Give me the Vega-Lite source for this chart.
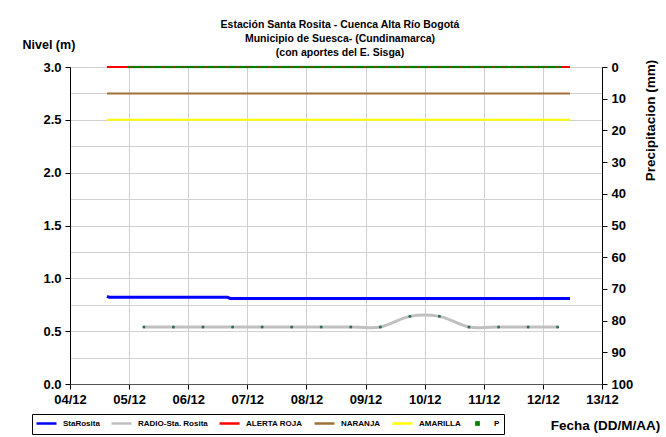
{
  "$schema": "https://vega.github.io/schema/vega-lite/v6.json",
  "width": 532,
  "height": 317,
  "autosize": {"type": "none"},
  "padding": {"left": 70, "top": 67, "right": 64, "bottom": 53},
  "background": "white",
  "config": {
    "font": "Arial, Liberation Sans, sans-serif",
    "view": {"stroke": null},
    "axis": {
      "labelFontWeight": "bold",
      "labelFontSize": 13,
      "labelColor": "black",
      "titleFontWeight": "bold",
      "titleFontSize": 12.5,
      "titleColor": "black",
      "domainColor": "black",
      "tickColor": "black",
      "gridColor": "#CCCCCC"
    }
  },
  "title": {
    "text": ["Estación Santa Rosita - Cuenca Alta Río Bogotá", "Municipio de Suesca- (Cundinamarca)", "(con aportes del  E. Sisga)"],
    "fontSize": 10.5,
    "fontWeight": "bold",
    "color": "black",
    "anchor": "middle",
    "frame": "group",
    "dx": 4,
    "lineHeight": 14,
    "offset": -20
  },
  "datasets": {
    "niveles": [
      {"fecha": "2012-12-04T15:00", "serie": "StaRosita", "nivel": 0.83},
      {"fecha": "2012-12-04T16:00", "serie": "StaRosita", "nivel": 0.82},
      {"fecha": "2012-12-05T12:00", "serie": "StaRosita", "nivel": 0.82},
      {"fecha": "2012-12-06T16:00", "serie": "StaRosita", "nivel": 0.82},
      {"fecha": "2012-12-06T17:00", "serie": "StaRosita", "nivel": 0.81},
      {"fecha": "2012-12-08T12:00", "serie": "StaRosita", "nivel": 0.81},
      {"fecha": "2012-12-10T12:00", "serie": "StaRosita", "nivel": 0.81},
      {"fecha": "2012-12-12T11:00", "serie": "StaRosita", "nivel": 0.81},
      {"fecha": "2012-12-04T15:00", "serie": "ALERTA ROJA", "nivel": 3.0},
      {"fecha": "2012-12-12T11:00", "serie": "ALERTA ROJA", "nivel": 3.0},
      {"fecha": "2012-12-04T15:00", "serie": "NARANJA", "nivel": 2.75},
      {"fecha": "2012-12-12T11:00", "serie": "NARANJA", "nivel": 2.75},
      {"fecha": "2012-12-04T15:00", "serie": "AMARILLA", "nivel": 2.5},
      {"fecha": "2012-12-12T11:00", "serie": "AMARILLA", "nivel": 2.5}
    ],
    "radio": [
      {"fecha": "2012-12-05T06:00", "serie": "RADIO-Sta. Rosita", "nivel": 0.54},
      {"fecha": "2012-12-05T18:00", "serie": "RADIO-Sta. Rosita", "nivel": 0.54},
      {"fecha": "2012-12-06T06:00", "serie": "RADIO-Sta. Rosita", "nivel": 0.54},
      {"fecha": "2012-12-06T18:00", "serie": "RADIO-Sta. Rosita", "nivel": 0.54},
      {"fecha": "2012-12-07T06:00", "serie": "RADIO-Sta. Rosita", "nivel": 0.54},
      {"fecha": "2012-12-07T18:00", "serie": "RADIO-Sta. Rosita", "nivel": 0.54},
      {"fecha": "2012-12-08T06:00", "serie": "RADIO-Sta. Rosita", "nivel": 0.54},
      {"fecha": "2012-12-08T18:00", "serie": "RADIO-Sta. Rosita", "nivel": 0.54},
      {"fecha": "2012-12-09T06:00", "serie": "RADIO-Sta. Rosita", "nivel": 0.54},
      {"fecha": "2012-12-09T18:00", "serie": "RADIO-Sta. Rosita", "nivel": 0.64},
      {"fecha": "2012-12-10T06:00", "serie": "RADIO-Sta. Rosita", "nivel": 0.64},
      {"fecha": "2012-12-10T18:00", "serie": "RADIO-Sta. Rosita", "nivel": 0.54},
      {"fecha": "2012-12-11T06:00", "serie": "RADIO-Sta. Rosita", "nivel": 0.54},
      {"fecha": "2012-12-11T18:00", "serie": "RADIO-Sta. Rosita", "nivel": 0.54},
      {"fecha": "2012-12-12T06:00", "serie": "RADIO-Sta. Rosita", "nivel": 0.54}
    ],
    "precip": [
      {"fecha": "2012-12-05T00:00", "serie": "P", "p": 0}, {"fecha": "2012-12-05T01:00", "serie": "P", "p": 0}, {"fecha": "2012-12-05T02:00", "serie": "P", "p": 0}, {"fecha": "2012-12-05T03:00", "serie": "P", "p": 0},
      {"fecha": "2012-12-05T04:00", "serie": "P", "p": 0}, {"fecha": "2012-12-05T05:00", "serie": "P", "p": 0}, {"fecha": "2012-12-05T06:00", "serie": "P", "p": 0}, {"fecha": "2012-12-05T07:00", "serie": "P", "p": 0},
      {"fecha": "2012-12-05T08:00", "serie": "P", "p": 0}, {"fecha": "2012-12-05T09:00", "serie": "P", "p": 0}, {"fecha": "2012-12-05T10:00", "serie": "P", "p": 0}, {"fecha": "2012-12-05T11:00", "serie": "P", "p": 0},
      {"fecha": "2012-12-05T12:00", "serie": "P", "p": 0}, {"fecha": "2012-12-05T13:00", "serie": "P", "p": 0}, {"fecha": "2012-12-05T14:00", "serie": "P", "p": 0}, {"fecha": "2012-12-05T15:00", "serie": "P", "p": 0},
      {"fecha": "2012-12-05T16:00", "serie": "P", "p": 0}, {"fecha": "2012-12-05T17:00", "serie": "P", "p": 0}, {"fecha": "2012-12-05T18:00", "serie": "P", "p": 0}, {"fecha": "2012-12-05T19:00", "serie": "P", "p": 0},
      {"fecha": "2012-12-05T20:00", "serie": "P", "p": 0}, {"fecha": "2012-12-05T21:00", "serie": "P", "p": 0}, {"fecha": "2012-12-05T22:00", "serie": "P", "p": 0}, {"fecha": "2012-12-05T23:00", "serie": "P", "p": 0},
      {"fecha": "2012-12-06T00:00", "serie": "P", "p": 0}, {"fecha": "2012-12-06T01:00", "serie": "P", "p": 0}, {"fecha": "2012-12-06T02:00", "serie": "P", "p": 0}, {"fecha": "2012-12-06T03:00", "serie": "P", "p": 0},
      {"fecha": "2012-12-06T04:00", "serie": "P", "p": 0}, {"fecha": "2012-12-06T05:00", "serie": "P", "p": 0}, {"fecha": "2012-12-06T06:00", "serie": "P", "p": 0}, {"fecha": "2012-12-06T07:00", "serie": "P", "p": 0},
      {"fecha": "2012-12-06T08:00", "serie": "P", "p": 0}, {"fecha": "2012-12-06T09:00", "serie": "P", "p": 0}, {"fecha": "2012-12-06T10:00", "serie": "P", "p": 0}, {"fecha": "2012-12-06T11:00", "serie": "P", "p": 0},
      {"fecha": "2012-12-06T12:00", "serie": "P", "p": 0}, {"fecha": "2012-12-06T13:00", "serie": "P", "p": 0}, {"fecha": "2012-12-06T14:00", "serie": "P", "p": 0}, {"fecha": "2012-12-06T15:00", "serie": "P", "p": 0},
      {"fecha": "2012-12-06T16:00", "serie": "P", "p": 0}, {"fecha": "2012-12-06T17:00", "serie": "P", "p": 0}, {"fecha": "2012-12-06T18:00", "serie": "P", "p": 0}, {"fecha": "2012-12-06T19:00", "serie": "P", "p": 0},
      {"fecha": "2012-12-06T20:00", "serie": "P", "p": 0}, {"fecha": "2012-12-06T21:00", "serie": "P", "p": 0}, {"fecha": "2012-12-06T22:00", "serie": "P", "p": 0}, {"fecha": "2012-12-06T23:00", "serie": "P", "p": 0},
      {"fecha": "2012-12-07T00:00", "serie": "P", "p": 0}, {"fecha": "2012-12-07T01:00", "serie": "P", "p": 0}, {"fecha": "2012-12-07T02:00", "serie": "P", "p": 0}, {"fecha": "2012-12-07T03:00", "serie": "P", "p": 0},
      {"fecha": "2012-12-07T04:00", "serie": "P", "p": 0}, {"fecha": "2012-12-07T05:00", "serie": "P", "p": 0}, {"fecha": "2012-12-07T06:00", "serie": "P", "p": 0}, {"fecha": "2012-12-07T07:00", "serie": "P", "p": 0},
      {"fecha": "2012-12-07T08:00", "serie": "P", "p": 0}, {"fecha": "2012-12-07T09:00", "serie": "P", "p": 0}, {"fecha": "2012-12-07T10:00", "serie": "P", "p": 0}, {"fecha": "2012-12-07T11:00", "serie": "P", "p": 0},
      {"fecha": "2012-12-07T12:00", "serie": "P", "p": 0}, {"fecha": "2012-12-07T13:00", "serie": "P", "p": 0}, {"fecha": "2012-12-07T14:00", "serie": "P", "p": 0}, {"fecha": "2012-12-07T15:00", "serie": "P", "p": 0},
      {"fecha": "2012-12-07T16:00", "serie": "P", "p": 0}, {"fecha": "2012-12-07T17:00", "serie": "P", "p": 0}, {"fecha": "2012-12-07T18:00", "serie": "P", "p": 0}, {"fecha": "2012-12-07T19:00", "serie": "P", "p": 0},
      {"fecha": "2012-12-07T20:00", "serie": "P", "p": 0}, {"fecha": "2012-12-07T21:00", "serie": "P", "p": 0}, {"fecha": "2012-12-07T22:00", "serie": "P", "p": 0}, {"fecha": "2012-12-07T23:00", "serie": "P", "p": 0},
      {"fecha": "2012-12-08T00:00", "serie": "P", "p": 0}, {"fecha": "2012-12-08T01:00", "serie": "P", "p": 0}, {"fecha": "2012-12-08T02:00", "serie": "P", "p": 0}, {"fecha": "2012-12-08T03:00", "serie": "P", "p": 0},
      {"fecha": "2012-12-08T04:00", "serie": "P", "p": 0}, {"fecha": "2012-12-08T05:00", "serie": "P", "p": 0}, {"fecha": "2012-12-08T06:00", "serie": "P", "p": 0}, {"fecha": "2012-12-08T07:00", "serie": "P", "p": 0},
      {"fecha": "2012-12-08T08:00", "serie": "P", "p": 0}, {"fecha": "2012-12-08T09:00", "serie": "P", "p": 0}, {"fecha": "2012-12-08T10:00", "serie": "P", "p": 0}, {"fecha": "2012-12-08T11:00", "serie": "P", "p": 0},
      {"fecha": "2012-12-08T12:00", "serie": "P", "p": 0}, {"fecha": "2012-12-08T13:00", "serie": "P", "p": 0}, {"fecha": "2012-12-08T14:00", "serie": "P", "p": 0}, {"fecha": "2012-12-08T15:00", "serie": "P", "p": 0},
      {"fecha": "2012-12-08T16:00", "serie": "P", "p": 0}, {"fecha": "2012-12-08T17:00", "serie": "P", "p": 0}, {"fecha": "2012-12-08T18:00", "serie": "P", "p": 0}, {"fecha": "2012-12-08T19:00", "serie": "P", "p": 0},
      {"fecha": "2012-12-08T20:00", "serie": "P", "p": 0}, {"fecha": "2012-12-08T21:00", "serie": "P", "p": 0}, {"fecha": "2012-12-08T22:00", "serie": "P", "p": 0}, {"fecha": "2012-12-08T23:00", "serie": "P", "p": 0},
      {"fecha": "2012-12-09T00:00", "serie": "P", "p": 0}, {"fecha": "2012-12-09T01:00", "serie": "P", "p": 0}, {"fecha": "2012-12-09T02:00", "serie": "P", "p": 0}, {"fecha": "2012-12-09T03:00", "serie": "P", "p": 0},
      {"fecha": "2012-12-09T04:00", "serie": "P", "p": 0}, {"fecha": "2012-12-09T05:00", "serie": "P", "p": 0}, {"fecha": "2012-12-09T06:00", "serie": "P", "p": 0}, {"fecha": "2012-12-09T07:00", "serie": "P", "p": 0},
      {"fecha": "2012-12-09T08:00", "serie": "P", "p": 0}, {"fecha": "2012-12-09T09:00", "serie": "P", "p": 0}, {"fecha": "2012-12-09T10:00", "serie": "P", "p": 0}, {"fecha": "2012-12-09T11:00", "serie": "P", "p": 0},
      {"fecha": "2012-12-09T12:00", "serie": "P", "p": 0}, {"fecha": "2012-12-09T13:00", "serie": "P", "p": 0}, {"fecha": "2012-12-09T14:00", "serie": "P", "p": 0}, {"fecha": "2012-12-09T15:00", "serie": "P", "p": 0},
      {"fecha": "2012-12-09T16:00", "serie": "P", "p": 0}, {"fecha": "2012-12-09T17:00", "serie": "P", "p": 0}, {"fecha": "2012-12-09T18:00", "serie": "P", "p": 0}, {"fecha": "2012-12-09T19:00", "serie": "P", "p": 0},
      {"fecha": "2012-12-09T20:00", "serie": "P", "p": 0}, {"fecha": "2012-12-09T21:00", "serie": "P", "p": 0}, {"fecha": "2012-12-09T22:00", "serie": "P", "p": 0}, {"fecha": "2012-12-09T23:00", "serie": "P", "p": 0},
      {"fecha": "2012-12-10T00:00", "serie": "P", "p": 0}, {"fecha": "2012-12-10T01:00", "serie": "P", "p": 0}, {"fecha": "2012-12-10T02:00", "serie": "P", "p": 0}, {"fecha": "2012-12-10T03:00", "serie": "P", "p": 0},
      {"fecha": "2012-12-10T04:00", "serie": "P", "p": 0}, {"fecha": "2012-12-10T05:00", "serie": "P", "p": 0}, {"fecha": "2012-12-10T06:00", "serie": "P", "p": 0}, {"fecha": "2012-12-10T07:00", "serie": "P", "p": 0},
      {"fecha": "2012-12-10T08:00", "serie": "P", "p": 0}, {"fecha": "2012-12-10T09:00", "serie": "P", "p": 0}, {"fecha": "2012-12-10T10:00", "serie": "P", "p": 0}, {"fecha": "2012-12-10T11:00", "serie": "P", "p": 0},
      {"fecha": "2012-12-10T12:00", "serie": "P", "p": 0}, {"fecha": "2012-12-10T13:00", "serie": "P", "p": 0}, {"fecha": "2012-12-10T14:00", "serie": "P", "p": 0}, {"fecha": "2012-12-10T15:00", "serie": "P", "p": 0},
      {"fecha": "2012-12-10T16:00", "serie": "P", "p": 0}, {"fecha": "2012-12-10T17:00", "serie": "P", "p": 0}, {"fecha": "2012-12-10T18:00", "serie": "P", "p": 0}, {"fecha": "2012-12-10T19:00", "serie": "P", "p": 0},
      {"fecha": "2012-12-10T20:00", "serie": "P", "p": 0}, {"fecha": "2012-12-10T21:00", "serie": "P", "p": 0}, {"fecha": "2012-12-10T22:00", "serie": "P", "p": 0}, {"fecha": "2012-12-10T23:00", "serie": "P", "p": 0},
      {"fecha": "2012-12-11T00:00", "serie": "P", "p": 0}, {"fecha": "2012-12-11T01:00", "serie": "P", "p": 0}, {"fecha": "2012-12-11T02:00", "serie": "P", "p": 0}, {"fecha": "2012-12-11T03:00", "serie": "P", "p": 0},
      {"fecha": "2012-12-11T04:00", "serie": "P", "p": 0}, {"fecha": "2012-12-11T05:00", "serie": "P", "p": 0}, {"fecha": "2012-12-11T06:00", "serie": "P", "p": 0}, {"fecha": "2012-12-11T07:00", "serie": "P", "p": 0},
      {"fecha": "2012-12-11T08:00", "serie": "P", "p": 0}, {"fecha": "2012-12-11T09:00", "serie": "P", "p": 0}, {"fecha": "2012-12-11T10:00", "serie": "P", "p": 0}, {"fecha": "2012-12-11T11:00", "serie": "P", "p": 0},
      {"fecha": "2012-12-11T12:00", "serie": "P", "p": 0}, {"fecha": "2012-12-11T13:00", "serie": "P", "p": 0}, {"fecha": "2012-12-11T14:00", "serie": "P", "p": 0}, {"fecha": "2012-12-11T15:00", "serie": "P", "p": 0},
      {"fecha": "2012-12-11T16:00", "serie": "P", "p": 0}, {"fecha": "2012-12-11T17:00", "serie": "P", "p": 0}, {"fecha": "2012-12-11T18:00", "serie": "P", "p": 0}, {"fecha": "2012-12-11T19:00", "serie": "P", "p": 0},
      {"fecha": "2012-12-11T20:00", "serie": "P", "p": 0}, {"fecha": "2012-12-11T21:00", "serie": "P", "p": 0}, {"fecha": "2012-12-11T22:00", "serie": "P", "p": 0}, {"fecha": "2012-12-11T23:00", "serie": "P", "p": 0},
      {"fecha": "2012-12-12T00:00", "serie": "P", "p": 0}, {"fecha": "2012-12-12T01:00", "serie": "P", "p": 0}, {"fecha": "2012-12-12T02:00", "serie": "P", "p": 0}, {"fecha": "2012-12-12T03:00", "serie": "P", "p": 0},
      {"fecha": "2012-12-12T04:00", "serie": "P", "p": 0}, {"fecha": "2012-12-12T05:00", "serie": "P", "p": 0}, {"fecha": "2012-12-12T06:00", "serie": "P", "p": 0}, {"fecha": "2012-12-12T07:00", "serie": "P", "p": 0}
    ]
  },
  "encoding": {
    "x": {
      "field": "fecha",
      "type": "temporal",
      "scale": {"domain": ["2012-12-04T00:00", "2012-12-13T00:00"], "nice": false},
      "axis": {
        "title": "Fecha (DD/M/AA)",
        "format": "%d/%m",
        "tickCount": {"interval": "day", "step": 1},
        "labelFlush": false,
        "labelOverlap": false,
        "tickSize": 5,
        "labelPadding": 4,
        "domainColor": "#555555",
        "gridColor": "#D0D0D0",
        "titleX": 535,
        "titleY": 41,
        "titleAlign": "center",
        "titleBaseline": "middle",
        "titleFontSize": 13.5
      }
    },
    "color": {
      "field": "serie",
      "type": "nominal",
      "scale": {
        "domain": ["StaRosita", "RADIO-Sta. Rosita", "ALERTA ROJA", "NARANJA", "AMARILLA", "P"],
        "range": ["#0000FF", "#C0C0C0", "#FF0000", "#A0703A", "#FFFF00", "#008000"]
      },
      "legend": {
        "title": null,
        "orient": "none",
        "legendX": -38,
        "legendY": 347,
        "direction": "horizontal",
        "gridAlign": "none",
        "strokeColor": "black",
        "fillColor": "white",
        "padding": 4,
        "labelFontSize": 8,
        "labelFontWeight": "bold",
        "labelColor": "black",
        "labelOffset": 11,
        "symbolOffset": 5,
        "columnPadding": 6,
        "symbolType": "M-2.5,0H2.5",
        "symbolSize": 64,
        "symbolStrokeWidth": 2.5,
        "encode": {
          "symbols": {
            "update": {
              "shape": {"signal": "datum.value === 'P' ? 'square' : 'M-2.5,0H2.5'"},
              "size": {"signal": "datum.value === 'P' ? 5 : 64"},
              "fill": {"signal": "datum.value === 'P' ? '#008000' : 'transparent'"}
            }
          }
        }
      }
    }
  },
  "layer": [
    {
      "encoding": {
        "y": {
          "field": "nivel",
          "type": "quantitative",
          "scale": {"domain": [0, 3], "nice": false, "zero": true},
          "axis": {
            "title": "Nivel (m)",
            "values": [0, 0.25, 0.5, 0.75, 1, 1.25, 1.5, 1.75, 2, 2.25, 2.5, 2.75, 3],
            "labelExpr": "datum.value % 0.5 == 0 ? format(datum.value, '.1f') : ''",
            "tickOpacity": {"condition": {"test": "datum.value % 0.5 != 0", "value": 0}, "value": 1},
            "tickSize": 5,
            "labelPadding": 4,
            "gridColor": "#D0D0D0",
            "titleAngle": 0,
            "titleX": -48,
            "titleY": -23,
            "titleAlign": "left",
            "titleBaseline": "middle"
          }
        }
      },
      "layer": [
        {
          "data": {"name": "niveles"},
          "transform": [{"filter": "datum.serie !== 'StaRosita'"}],
          "mark": {"type": "line", "strokeWidth": 2},
          "encoding": {}
        },
        {
          "data": {"name": "niveles"},
          "transform": [{"filter": "datum.serie === 'StaRosita'"}],
          "mark": {"type": "line", "strokeWidth": 3},
          "encoding": {}
        },
        {
          "data": {"name": "radio"},
          "mark": {"type": "line", "strokeWidth": 3, "interpolate": "cardinal"},
          "encoding": {}
        },
        {
          "data": {"name": "radio"},
          "mark": {"type": "point", "shape": "circle", "filled": true, "size": 9, "opacity": 1},
          "encoding": {"color": {"value": "#2E6B5A"}}
        }
      ]
    },
    {
      "data": {"name": "precip"},
      "mark": {"type": "point", "shape": "square", "filled": true, "size": 5, "opacity": 1},
      "encoding": {
        "y": {
          "field": "p",
          "type": "quantitative",
          "scale": {"domain": [0, 100], "reverse": true, "nice": false},
          "axis": {
            "orient": "right",
            "title": "Precipitacion (mm)",
            "values": [0, 10, 20, 30, 40, 50, 60, 70, 80, 90, 100],
            "grid": false,
            "tickSize": 5,
            "labelPadding": 4,
            "titleAngle": 270,
            "titleX": 48,
            "titleY": 53,
            "titleAlign": "center",
            "titleBaseline": "middle",
            "titleFontSize": 13.5
          }
        }
      }
    }
  ],
  "resolve": {"scale": {"y": "independent"}}
}
